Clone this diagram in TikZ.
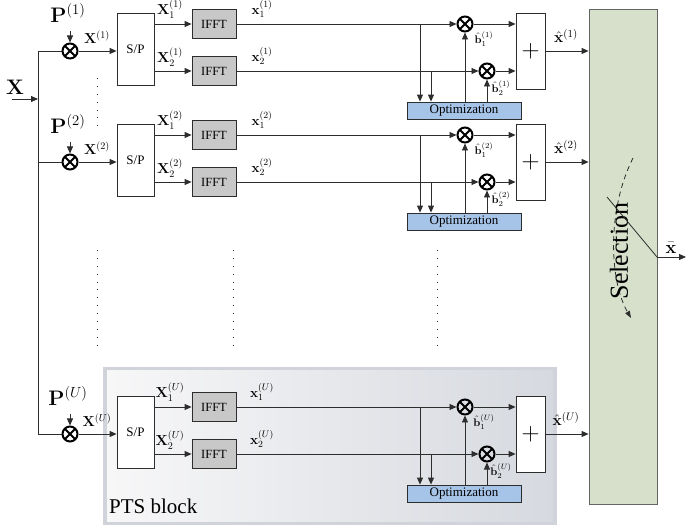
\documentclass[tikz,border=0pt]{standalone}
\usepackage{fix-cm}
\usepackage[no-math]{fontspec}
\setmainfont{Liberation Serif}
\usetikzlibrary{arrows.meta,calc}
\definecolor{lc}{RGB}{45,45,45}
\definecolor{ifftc}{RGB}{200,200,200}
\definecolor{optc}{RGB}{166,196,232}
\definecolor{selc}{RGB}{214,224,202}
\definecolor{selb}{RGB}{100,100,100}
\definecolor{ptsB}{RGB}{208,211,218}
\definecolor{ptsL}{RGB}{247,247,248}
\definecolor{ptsR}{RGB}{214,217,223}
\tikzset{
  ln/.style={draw=lc, line width=0.9pt},
  arr/.style={ln, -{Triangle[length=7pt,width=6pt]}},
  spbox/.style={draw=lc, fill=white, line width=0.8pt, minimum width=37pt, minimum height=72pt, inner sep=0pt, font=\rmfamily\fontsize{13}{13}\selectfont},
  ifftbox/.style={draw=lc, fill=ifftc, line width=0.8pt, minimum width=44pt, minimum height=29pt, inner sep=0pt, font=\rmfamily\fontsize{12.5}{12.5}\selectfont},
  optbox/.style={draw=lc, fill=optc, line width=0.8pt, minimum width=114pt, minimum height=17pt, inner sep=0pt, font=\rmfamily\fontsize{13}{13}\selectfont},
  sumbox/.style={draw=lc, fill=white, line width=0.8pt, minimum width=29pt, minimum height=76pt, inner sep=0pt, font=\fontsize{25}{25}\selectfont},
  selbox/.style={draw=selb, fill=selc, line width=0.8pt, minimum width=68pt, minimum height=495pt, inner sep=0pt},
  mult/.style={circle, draw=black, line width=2pt, minimum size=15pt, inner sep=0pt,
    path picture={\draw[black, line width=2pt] (path picture bounding box.north west) -- (path picture bounding box.south east) (path picture bounding box.north east) -- (path picture bounding box.south west);}},
  plbl/.style={inner sep=0pt, font=\fontsize{21}{21}\selectfont},
  lbl/.style={inner sep=0pt, font=\fontsize{14.5}{14.5}\selectfont},
  slbl/.style={inner sep=0pt, font=\fontsize{13.5}{13.5}\selectfont},
  blbl/.style={inner sep=0pt, font=\fontsize{11}{11}\selectfont},
  hlbl/.style={inner sep=0pt, font=\fontsize{15.5}{15.5}\selectfont},
  dotl/.style={draw=lc, line width=0.9pt, dash pattern=on 0.9pt off 7pt},
}
\begin{document}
\begin{tikzpicture}[x=1pt,y=-1pt]
\useasboundingbox (0,0) rectangle (686,529);
% PTS block background
\fill[ptsB] (103,367) rectangle (557,525);
\shade[left color=ptsL, right color=ptsR] (107,371) rectangle (553,521);
\node[anchor=west, inner sep=0pt, font=\rmfamily\fontsize{21}{21}\selectfont] (pts) at (109,506) {PTS block};

% Selection block
\node[selbox] (sel) at (623,256.5) {};

% input
\node[plbl] (Xin) at (15,87) {$\mathbf{X}$};
\coordinate (xin) at (12,99);
\coordinate (xbus) at (38,99);
\draw[arr] (xin) -- (xbus);

\foreach \a/\s/\n in {24/1/1, 135/2/2, 407/U/u} {
  \coordinate (bus\n) at (38,\a+27);
  \node[mult] (m\n) at (70,\a+27) {};
  \node[plbl] (P\n) at (68,\a-11) {$\mathbf{P}^{(\s)}$};
  \coordinate (pa\n) at (70,\a+7);
  \draw[arr] (pa\n) -- (m\n.north);
  \draw[ln] (bus\n) -- (m\n.west);
  \node[spbox] (sp\n) at (135.5,\a+25) {S/P};
  \draw[arr] (m\n.east) -- (m\n -| sp\n.west);
  \node[lbl] (lX\n) at (97,\a+13) {$\mathbf{X}^{(\s)}$};
  \node[ifftbox] (fa\n) at (214,\a) {IFFT};
  \node[ifftbox] (fb\n) at (214,\a+47) {IFFT};
  \draw[arr] (fa\n -| sp\n.east) -- (fa\n.west);
  \draw[arr] (fb\n -| sp\n.east) -- (fb\n.west);
  \node[lbl] (lXa\n) at (170,\a-15) {$\mathbf{X}_1^{(\s)}$};
  \node[lbl] (lXb\n) at (170,\a+33) {$\mathbf{X}_2^{(\s)}$};
  \node[slbl] (lxa\n) at (262,\a-15) {$\mathbf{x}_1^{(\s)}$};
  \node[slbl] (lxb\n) at (262,\a+32) {$\mathbf{x}_2^{(\s)}$};
  \node[mult] (ma\n) at (465,\a) {};
  \node[mult] (mb\n) at (487,\a+47) {};
  \draw[arr] (fa\n.east) -- (ma\n.west);
  \draw[arr] (fb\n.east) -- (mb\n.west);
  \node[optbox] (opt\n) at (464,\a+86.5) {Optimization};
  \coordinate (ta\n) at (420,\a);
  \coordinate (tb\n) at (431,\a+47);
  \draw[arr] (ta\n) -- (ta\n |- opt\n.north);
  \draw[arr] (tb\n) -- (tb\n |- opt\n.north);
  \draw[arr] (opt\n.north -| ma\n) -- (ma\n.south);
  \draw[arr] (opt\n.north -| mb\n) -- (mb\n.south);
  \node[blbl] (lba\n) at (484,\a+15) {$\hat{\mathbf{b}}_1^{(\s)}$};
  \node[blbl] (lbb\n) at (501,\a+64) {$\hat{\mathbf{b}}_2^{(\s)}$};
  \node[sumbox] (sum\n) at (530.5,\a+27) {$+$};
  \draw[arr] (ma\n.east) -- (ma\n -| sum\n.west);
  \draw[arr] (mb\n.east) -- (mb\n -| sum\n.west);
  \draw[arr] (sum\n.east) -- (sum\n.east -| sel.west);
  \node[hlbl] (lxh\n) at (566,\a+12) {$\hat{\mathbf{x}}^{(\s)}$};
}
\draw[ln] (bus1) -- (busu);

% dotted continuation lines
\coordinate (da1) at (97,78);  \coordinate (da2) at (97,127);
\draw[dotl] (da1) -- (da2);
\foreach \x [count=\k] in {97,233,437} {
  \coordinate (dt\k) at (\x,250);
  \coordinate (db\k) at (\x,348);
  \draw[dotl] (dt\k) -- (db\k);
}

% selection internals
\coordinate (sa) at (633,158);
\coordinate (sb) at (631,318);
\draw[lc, line width=0.8pt, dash pattern=on 5pt off 4pt, -{Triangle[length=7pt,width=5pt]}] (sa) .. controls (606,212) and (610,282) .. (sb);
\node[rotate=90, inner sep=0pt, font=\rmfamily\fontsize{26}{26}\selectfont] (seltxt) at (619,251) {Selection};
\coordinate (sw) at (607,197);
\coordinate (so) at (657,257);
\coordinate (xo) at (686,257);
\draw[lc, line width=0.8pt] (sw) -- (so);
\draw[arr] (so) -- (xo);
\node[inner sep=0pt, font=\fontsize{18}{18}\selectfont] (lxbar) at (671,248) {$\bar{\mathbf{x}}$};
\end{tikzpicture}
\end{document}
